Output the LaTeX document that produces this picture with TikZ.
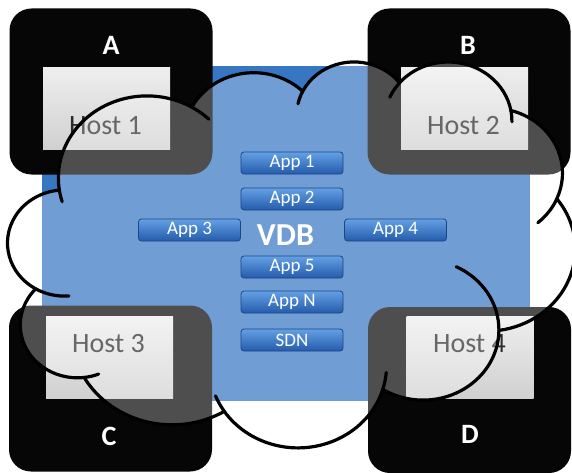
\documentclass[tikz,border=0pt]{standalone}
\usepackage{fontspec}
\setmainfont{Carlito}
\definecolor{boxblack}{RGB}{6,6,6}
\definecolor{hosttop}{RGB}{238,238,238}
\definecolor{hostbot}{RGB}{208,208,208}
\definecolor{hosttext}{RGB}{42,42,42}
\definecolor{vdbblue}{RGB}{54,118,194}
\definecolor{btntop}{RGB}{100,160,228}
\definecolor{btnmid}{RGB}{52,118,202}
\definecolor{btnbot}{RGB}{36,92,172}
\definecolor{btnedge}{RGB}{28,70,135}
\newcommand{\cloudtail}[6]{\draw[cloudline] (#1,#2) ++(#5:#3 and #4) arc[start angle=#5, end angle=#6, x radius=#3, y radius=#4];}
\begin{document}
\begin{tikzpicture}[x=1pt,y=1pt,
  hostbox/.style={fill=boxblack, rounded corners=22pt, minimum width=203pt, minimum height=166pt, inner sep=0pt},
  hostrect/.style={top color=hosttop, bottom color=hostbot, minimum width=127pt, minimum height=82pt, inner sep=0pt},
  hosttxt/.style={text=hosttext, font=\fontsize{28}{30}\selectfont, inner sep=0pt, anchor=base},
  boxlabel/.style={text=white, font=\bfseries\fontsize{28}{30}\selectfont, inner sep=0pt, anchor=base},
  appbtn/.style={draw=btnedge, line width=0.8pt, rounded corners=3pt, top color=btntop, middle color=btnmid, bottom color=btnbot, minimum width=102pt, minimum height=22pt, inner sep=0pt, text=white, font=\fontsize{19}{20}\selectfont},
  cloudline/.style={line width=3.2pt, line cap=round, draw=black}
]
\useasboundingbox (0,0) rectangle (572,-473);
\fill[white] (0,0) rectangle (572,-473);
% VDB area
\node[fill=vdbblue, minimum width=488pt, minimum height=335pt, inner sep=0pt] (vdbarea) at (286,-233.5) {};
% host boxes
\node[hostbox] (boxA) at (111,-91.5) {};
\node[hostbox] (boxB) at (469,-91.5) {};
\node[hostbox] (boxC) at (110.5,-388.5) {};
\node[hostbox] (boxD) at (469.5,-390) {};
\node[hostrect] (h1) at (106.5,-109) {};
\node[hostrect] (h2) at (464.5,-109) {};
\node[hostrect] (h3) at (109.5,-357.5) {};
\node[hostrect] (h4) at (470,-357.5) {};
\node[hosttxt] (t1) at (105.5,-135) {Host 1};
\node[hosttxt] (t2) at (463.5,-135) {Host 2};
\node[hosttxt] (t3) at (108.5,-352) {Host 3};
\node[hosttxt] (t4) at (469.5,-352) {Host 4};
\node[boxlabel] (lA) at (111,-55) {A};
\node[boxlabel] (lB) at (468,-55) {B};
\node[boxlabel] (lC) at (109,-445) {C};
\node[boxlabel] (lD) at (470,-443) {D};
% cloud
\begin{scope}[shift={(8,-60.7)}, xscale=1.3125, yscale=-0.893]
\path[fill=white, fill opacity=0.29, cloudline, line join=round] (39.00,143.70)
 arc[start angle=-187.745, delta angle=128.1, x radius=67.53, y radius=91.90]
 arc[start angle=-152.02, delta angle=106.56, x radius=53.33, y radius=72.67]
 arc[start angle=-153.50, delta angle=116.17, x radius=43.65, y radius=59.45]
 arc[start angle=-139.70, delta angle=129.49, x radius=48.57, y radius=65.95]
 arc[start angle=-74.77, delta angle=97.98, x radius=53.33, y radius=72.73]
 arc[start angle=-37.53, delta angle=119.39, x radius=67.75, y radius=92.20]
 arc[start angle=0.46, delta angle=121.52, x radius=57.85, y radius=78.67]
 arc[start angle=16.84, delta angle=129.39, x radius=67.52, y radius=92.15]
 arc[start angle=58.98, delta angle=91.22, x radius=77.20, y radius=105.43]
 arc[start angle=-276.69, delta angle=139.79, x radius=43.60, y radius=59.18]
 arc[start angle=-239.65, delta angle=143.76, x radius=43.45, y radius=59.45]
 -- cycle;
\cloudtail{105.91}{131.32}{67.53}{91.90}{163.19}{172.255}
\cloudtail{105.91}{131.32}{67.53}{91.90}{-59.64}{-45.74}
\cloudtail{263.61}{60.86}{43.65}{59.45}{-167.72}{-153.50}
\cloudtail{335.37}{67.47}{48.57}{65.95}{-156.30}{-139.70}
\cloudtail{335.37}{67.47}{48.57}{65.95}{-10.21}{0.82}
\cloudtail{369.16}{125.96}{53.33}{72.73}{23.21}{49.64}
\cloudtail{316.17}{301.41}{57.85}{78.67}{-64.02}{0.46}
\cloudtail{220.91}{341.44}{67.52}{92.15}{4.735}{16.84}
\cloudtail{220.91}{341.44}{67.52}{92.15}{146.23}{158.47}
\cloudtail{52.93}{295.92}{43.60}{59.18}{68.24}{83.31}
\cloudtail{43.07}{204.17}{43.45}{59.45}{85.54}{120.35}
\end{scope}
% apps
\node[appbtn] (app1) at (292,-163) {App 1};
\node[appbtn] (app2) at (292,-199) {App 2};
\node[appbtn] (app3) at (189.5,-230) {App 3};
\node[appbtn] (app4) at (395.5,-230) {App 4};
\node[appbtn] (app5) at (292,-267) {App 5};
\node[appbtn] (appn) at (292,-302) {App N};
\node[appbtn] (sdn) at (292,-340) {SDN};
\node[text=white, font=\bfseries\fontsize{32}{34}\selectfont, inner sep=0pt] (vdb) at (285.5,-235) {VDB};
\end{tikzpicture}
\end{document}
